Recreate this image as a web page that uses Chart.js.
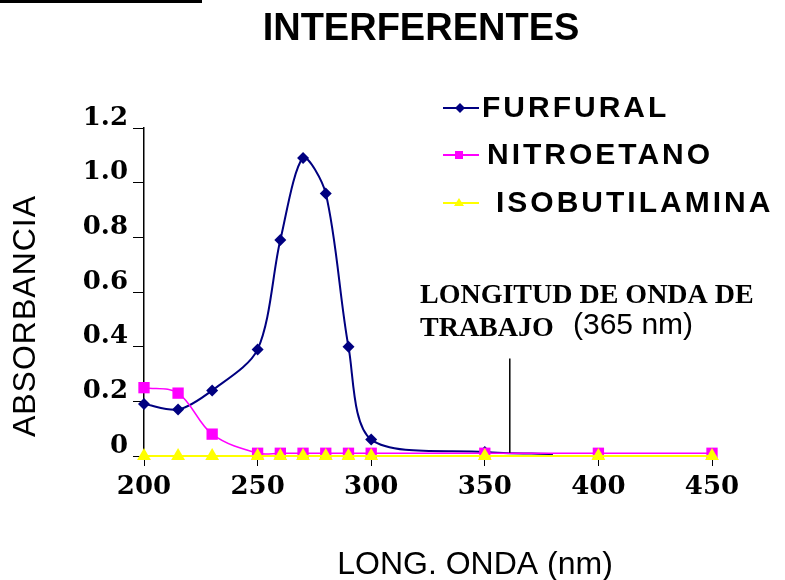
<!DOCTYPE html>
<html>
<head>
<meta charset="utf-8">
<script src="https://cdn.jsdelivr.net/npm/chart.js@4/dist/chart.umd.min.js"></script>
<style>
  html, body { margin: 0; padding: 0; background: #fff; }
  #wrap { width: 785px; height: 580px; }
</style>
</head>
<body>
<div id="wrap"><canvas id="grafico" width="785" height="580"></canvas></div>
<script>
// Datos (longitud de onda en nm, absorbancia)
const xFurfural = [200, 215, 230, 250, 260, 270, 280, 290, 300, 350, 380];
const yFurfural = [0.19, 0.17, 0.24, 0.39, 0.79, 1.09, 0.96, 0.40, 0.06, 0.015, 0.007];

const xNitroetano = [200, 215, 230, 250, 260, 270, 280, 290, 300, 350, 400, 450];
const yNitroetano = [0.25, 0.23, 0.08, 0.01, 0.01, 0.01, 0.01, 0.01, 0.01, 0.01, 0.01, 0.01];

const xIsobutilamina = [200, 215, 230, 250, 260, 270, 280, 290, 300, 350, 400, 450];
const yIsobutilamina = [0, 0, 0, 0, 0, 0, 0, 0, 0, 0, 0, 0];

const xTicks = [200, 250, 300, 350, 400, 450];
const yTicks = [0, 0.2, 0.4, 0.6, 0.8, 1.0, 1.2];
const yTickLabels = ["0", "0.2", "0.4", "0.6", "0.8", "1.0", "1.2"];

const seriesNames = ["FURFURAL", "NITROETANO", "ISOBUTILAMINA"];
const lambdaTrabajo = 361;   // donde cae la línea vertical en el dibujo

// Colores
const azul = "#000080";
const magenta = "#ff00ff";
const amarillo = "#ffff00";

const toPts = (xs, ys) => xs.map((x, i) => ({ x: x, y: ys[i] }));

// Textos sueltos, leyenda y marca de la longitud de trabajo
const textos = {
    id: "textos",
    afterDraw(chart) {
        const c = chart.ctx;
        const xs = chart.scales.x;
        const ys = chart.scales.y;
        c.save();

        // barra negra arriba a la izquierda
        c.fillStyle = "#000";
        c.fillRect(0, 0, 202, 3);

        // título
        c.fillStyle = "#000";
        c.textAlign = "center";
        c.textBaseline = "middle";
        c.font = "bold 38px 'Liberation Sans', Arial, sans-serif";
        c.fillText("INTERFERENTES", 421, 30);

        // títulos de ejes
        c.font = "32px 'Liberation Sans', Arial, sans-serif";
        c.fillText("LONG. ONDA (nm)", 475, 565);
        c.save();
        c.translate(26, 316);
        c.rotate(-Math.PI / 2);
        c.letterSpacing = "1px";
        c.fillText("ABSORBANCIA", 0, 0);
        c.restore();

        // leyenda
        const filas = [
            { y: 108, color: azul, textX: 482, forma: "rombo" },
            { y: 155, color: magenta, textX: 487, forma: "cuadro" },
            { y: 203, color: amarillo, textX: 496, forma: "triangulo" }
        ];
        filas.forEach((f, i) => {
            c.strokeStyle = f.color;
            c.fillStyle = f.color;
            c.lineWidth = 2;
            c.beginPath();
            c.moveTo(443, f.y);
            c.lineTo(479, f.y);
            c.stroke();
            c.beginPath();
            if (f.forma === "rombo") {
                c.moveTo(460, f.y - 5); c.lineTo(465, f.y); c.lineTo(460, f.y + 5); c.lineTo(455, f.y);
            } else if (f.forma === "cuadro") {
                c.rect(455, f.y - 4, 8, 8);
            } else {
                c.moveTo(459, f.y - 5); c.lineTo(464, f.y + 3); c.lineTo(454, f.y + 3);
            }
            c.closePath();
            c.fill();

            c.fillStyle = "#000";
            c.textAlign = "left";
            c.textBaseline = "middle";
            c.font = "bold 30px 'Liberation Sans', Arial, sans-serif";
            c.letterSpacing = "3px";
            c.fillText(seriesNames[i], f.textX, f.y + 1);
            c.letterSpacing = "0px";
        });

        // anotación
        c.fillStyle = "#000";
        c.textAlign = "left";
        c.textBaseline = "middle";
        c.font = "bold 28px 'Liberation Serif', 'Times New Roman', serif";
        c.fillText("LONGITUD DE ONDA DE", 420, 296);
        c.fillText("TRABAJO", 420, 329);
        c.font = "30px 'Liberation Sans', Arial, sans-serif";
        c.fillText("(365 nm)", 573, 326);

        const lx = xs.getPixelForValue(lambdaTrabajo);
        c.strokeStyle = "#000";
        c.lineWidth = 1.5;
        c.beginPath();
        c.moveTo(lx, ys.getPixelForValue(0.357));
        c.lineTo(lx, ys.getPixelForValue(0.012));
        c.stroke();

        c.restore();
    }
};

const fuenteTicks = { family: "'DejaVu Serif', serif", size: 26, weight: "bold" };

// order: el número más bajo queda encima (amarillo arriba, azul abajo)
new Chart(document.getElementById("grafico"), {
    type: "line",
    data: {
        datasets: [
            {
                label: seriesNames[0],
                data: toPts(xFurfural, yFurfural),
                borderColor: azul,
                backgroundColor: azul,
                borderWidth: 2,
                pointStyle: "rectRot",
                pointRadius: ctx => (ctx.dataIndex < xFurfural.length - 1 ? 6 : 0),
                pointBorderWidth: 0,
                tension: 0.3,
                clip: false,
                order: 2
            },
            {
                label: seriesNames[1],
                data: toPts(xNitroetano, yNitroetano),
                borderColor: magenta,
                backgroundColor: magenta,
                borderWidth: 1.5,
                pointStyle: "rect",
                pointRadius: 8,
                pointBorderWidth: 0,
                tension: 0.35,
                clip: false,
                order: 1
            },
            {
                label: seriesNames[2],
                data: toPts(xIsobutilamina, yIsobutilamina),
                borderColor: amarillo,
                backgroundColor: amarillo,
                borderWidth: 2,
                pointStyle: "triangle",
                pointRadius: 8,
                pointBorderWidth: 0,
                clip: false,
                order: 0
            }
        ]
    },
    options: {
        responsive: false,
        animation: false,
        devicePixelRatio: 1,
        layout: { padding: { left: 0, top: 128, right: 73, bottom: 0 } },
        plugins: {
            legend: { display: false },
            title: { display: false },
            tooltip: { enabled: false }
        },
        scales: {
            x: {
                type: "linear",
                min: 200,
                max: 450,
                afterFit: s => { s.height = 124; },
                afterBuildTicks: s => { s.ticks = xTicks.map(v => ({ value: v })); },
                border: { color: "#000", width: 1.5 },
                grid: { drawOnChartArea: false, tickLength: 10, color: "#000", tickColor: "#000" },
                ticks: { color: "#000", font: fuenteTicks, padding: 6, maxRotation: 0 }
            },
            y: {
                type: "linear",
                min: 0,
                max: 1.2,
                afterFit: s => { s.width = 144; },
                afterBuildTicks: s => { s.ticks = yTicks.map(v => ({ value: v })); },
                border: { color: "#000", width: 1.5 },
                grid: { drawOnChartArea: false, tickLength: 11, color: "#000", tickColor: "#000" },
                ticks: {
                    color: "#000",
                    font: fuenteTicks,
                    padding: 5,
                    labelOffset: -10,
                    callback: (v, i) => yTickLabels[i]
                }
            }
        }
    },
    plugins: [textos]
});
</script>
</body>
</html>
